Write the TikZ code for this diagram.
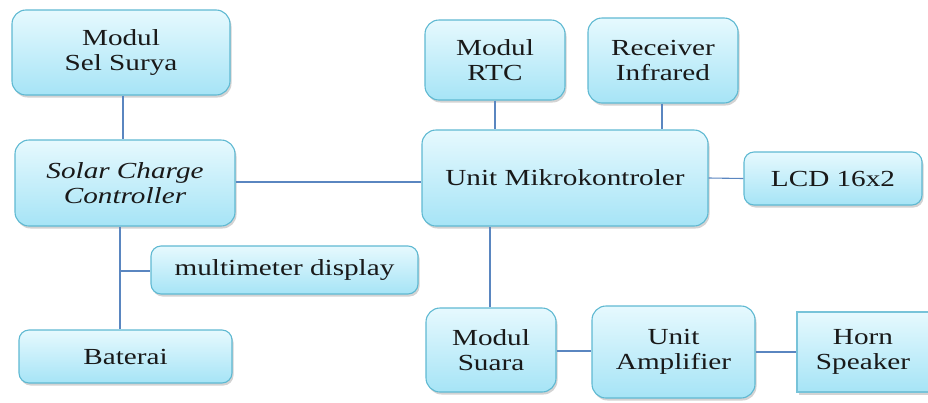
\documentclass[tikz,border=0pt]{standalone}
\usepackage{fontspec}
\setmainfont[FakeStretch=1.27]{Liberation Serif}
\usetikzlibrary{shadows}
\definecolor{boxtop}{HTML}{E6F9FE}
\definecolor{boxbot}{HTML}{A6E4F6}
\definecolor{boxline}{HTML}{5FB9D2}
\definecolor{wire}{HTML}{5A86C0}
\tikzset{
  blk/.style={draw=boxline, line width=1.1pt, rounded corners=14pt, top color=boxtop, bottom color=boxbot,
    drop shadow={shadow xshift=1.5pt, shadow yshift=-2.5pt, opacity=0.35, fill=gray},
    inner sep=0pt, align=center, font=\fontsize{23}{25.5}\selectfont, text=black!90},
  sqblk/.style={blk, rounded corners=0pt, draw=boxline!85},
  wireln/.style={draw=wire, line width=1.1pt}
}
\begin{document}
\begin{tikzpicture}[x=1pt, y=-1pt]
\useasboundingbox (0,0) rectangle (928,402);
\node[blk, minimum width=218pt, minimum height=85pt] (sel) at (121,52.5) {Modul\\Sel Surya};
\node[blk, minimum width=220pt, minimum height=86pt] (scc) at (125,183) {\itshape Solar Charge\\\itshape Controller};
\node[blk, minimum width=267pt, minimum height=48pt, rounded corners=10pt] (mm) at (284.5,270) {multimeter display};
\node[blk, minimum width=213pt, minimum height=53pt, rounded corners=10pt] (bat) at (125.5,356.5) {Baterai};
\node[blk, minimum width=140pt, minimum height=80pt] (rtc) at (495,60) {Modul\\RTC};
\node[blk, minimum width=150pt, minimum height=85pt] (rcv) at (663,60.5) {Receiver\\Infrared};
\node[blk, minimum width=286pt, minimum height=96pt] (mk) at (565,178) {Unit Mikrokontroler};
\node[blk, minimum width=178pt, minimum height=53pt, rounded corners=10pt] (lcd) at (833,178.5) {LCD 16x2};
\node[blk, minimum width=130pt, minimum height=84pt] (sua) at (491,350) {Modul\\Suara};
\node[blk, minimum width=163pt, minimum height=92pt] (amp) at (673.5,352) {Unit\\Amplifier};
\node[sqblk, minimum width=138pt, minimum height=80pt, text width=130pt] (horn) at (866,352) {\hspace*{-6pt}Horn\\\hspace*{-6pt}Speaker};
\coordinate (br) at (120,271);
\draw[wireln] ([xshift=2pt]sel.south) -- ([xshift=2pt]sel.south |- scc.north);
\draw[wireln] (scc.east |- 0,182) -- (mk.west |- 0,182);
\draw[wireln] ([xshift=-5pt]scc.south) -- ([xshift=-5pt]scc.south |- bat.north);
\draw[wireln] (br) -- (mm.west |- br);
\draw[wireln] (rtc.south) -- (rtc.south |- mk.north);
\draw[wireln] ([xshift=-1pt]rcv.south) -- ([xshift=-1pt]rcv.south |- mk.north);
\draw[wireln] (mk.east) -- (lcd.west);
\draw[wireln] ([xshift=-1pt]sua.north) -- ([xshift=-1pt]sua.north |- mk.south);
\draw[wireln] (sua.east |- 0,351) -- (amp.west |- 0,351);
\draw[wireln] (amp.east) -- (horn.west);
\end{tikzpicture}
\end{document}
